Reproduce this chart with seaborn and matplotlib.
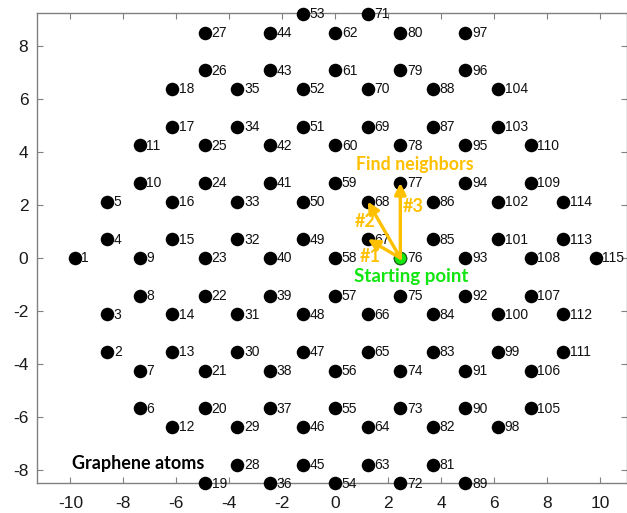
import matplotlib
matplotlib.use("Agg")
import matplotlib.pyplot as plt
import seaborn as sns
import pandas as pd

# ---------------- data ----------------
atom_x = [
    -9.84,
    -8.61, -8.61, -8.61, -8.61,
    -7.38, -7.38, -7.38, -7.38, -7.38, -7.38,
    -6.15, -6.15, -6.15, -6.15, -6.15, -6.15, -6.15,
    -4.92, -4.92, -4.92, -4.92, -4.92, -4.92, -4.92, -4.92, -4.92,
    -3.69, -3.69, -3.69, -3.69, -3.69, -3.69, -3.69, -3.69,
    -2.46, -2.46, -2.46, -2.46, -2.46, -2.46, -2.46, -2.46, -2.46,
    -1.23, -1.23, -1.23, -1.23, -1.23, -1.23, -1.23, -1.23, -1.23,
    0.00, 0.00, 0.00, 0.00, 0.00, 0.00, 0.00, 0.00, 0.00,
    1.23, 1.23, 1.23, 1.23, 1.23, 1.23, 1.23, 1.23, 1.23,
    2.46, 2.46, 2.46, 2.46, 2.46, 2.46, 2.46, 2.46, 2.46,
    3.69, 3.69, 3.69, 3.69, 3.69, 3.69, 3.69, 3.69,
    4.92, 4.92, 4.92, 4.92, 4.92, 4.92, 4.92, 4.92, 4.92,
    6.15, 6.15, 6.15, 6.15, 6.15, 6.15, 6.15,
    7.38, 7.38, 7.38, 7.38, 7.38, 7.38,
    8.61, 8.61, 8.61, 8.61,
    9.84,
]
atom_y = [
    0.00,
    -3.55, -2.13, 0.71, 2.13,
    -5.68, -4.26, -1.42, 0.00, 2.84, 4.26,
    -6.39, -3.55, -2.13, 0.71, 2.13, 4.97, 6.39,
    -8.52, -5.68, -4.26, -1.42, 0.00, 2.84, 4.26, 7.10, 8.52,
    -7.81, -6.39, -3.55, -2.13, 0.71, 2.13, 4.97, 6.39,
    -8.52, -5.68, -4.26, -1.42, 0.00, 2.84, 4.26, 7.10, 8.52,
    -7.81, -6.39, -3.55, -2.13, 0.71, 2.13, 4.97, 6.39, 9.23,
    -8.52, -5.68, -4.26, -1.42, 0.00, 2.84, 4.26, 7.10, 8.52,
    -7.81, -6.39, -3.55, -2.13, 0.71, 2.13, 4.97, 6.39, 9.23,
    -8.52, -5.68, -4.26, -1.42, 0.00, 2.84, 4.26, 7.10, 8.52,
    -7.81, -6.39, -3.55, -2.13, 0.71, 2.13, 4.97, 6.39,
    -8.52, -5.68, -4.26, -1.42, 0.00, 2.84, 4.26, 7.10, 8.52,
    -6.39, -3.55, -2.13, 0.71, 2.13, 4.97, 6.39,
    -5.68, -4.26, -1.42, 0.00, 2.84, 4.26,
    -3.55, -2.13, 0.71, 2.13,
    0.00,
]
atom_labels = [str(i) for i in range(1, len(atom_x) + 1)]

start_x = [2.46]
start_y = [0.00]
neighbor_x = [1.23, 1.23, 2.46]
neighbor_y = [0.71, 2.13, 2.84]
neighbor_labels = ["#1", "#2", "#3"]
neighbor_label_x = [1.34, 1.15, 2.93]
neighbor_label_y = [0.05, 1.37, 1.94]

x_ticks = [-10, -8, -6, -4, -2, 0, 2, 4, 6, 8, 10]
y_ticks = [-8, -6, -4, -2, 0, 2, 4, 6, 8]

ORANGE = "#FFC000"
GREEN = "#11E611"

# ---------------- figure ----------------
sns.set_theme(style="white")
plt.rcParams["font.family"] = ["Liberation Sans", "DejaVu Sans"]
plt.rcParams["axes.unicode_minus"] = False

fig = plt.figure(figsize=(6.27, 5.13), dpi=100)
ax = fig.add_axes([36.7 / 627, (513 - 483.3) / 513, (626.5 - 36.7) / 627, (483.3 - 13.3) / 513])

df = pd.DataFrame({"x": atom_x, "y": atom_y, "label": atom_labels})
sns.scatterplot(data=df, x="x", y="y", color="black", s=95, linewidth=0,
                ax=ax, clip_on=False, zorder=3, legend=False)

for xx, yy, lab in zip(df["x"], df["y"], df["label"]):
    ax.annotate(lab, (xx, yy), xytext=(4.8, -0.3), textcoords="offset points",
                ha="left", va="center", fontsize=10, color="#111111",
                annotation_clip=False, zorder=4)

# starting point
sns.scatterplot(x=start_x, y=start_y, color=GREEN, s=80, edgecolor="#1a6a1a",
                linewidth=0.8, ax=ax, clip_on=False, zorder=5, legend=False)

# neighbour arrows
for tx, ty in zip(neighbor_x, neighbor_y):
    ax.annotate("", xy=(tx, ty), xytext=(start_x[0], start_y[0]),
                arrowprops=dict(arrowstyle="-|>", color=ORANGE, lw=2.4,
                                mutation_scale=17, shrinkA=0, shrinkB=0),
                zorder=6)
bold_font = ["Lato", "DejaVu Sans"]
for lx, ly, lab in zip(neighbor_label_x, neighbor_label_y, neighbor_labels):
    ax.text(lx, ly, lab, color=ORANGE, fontsize=13, fontweight="bold",
            family=bold_font, ha="center", va="center", zorder=7)

ax.text(3.0, 3.55, "Find neighbors", color=ORANGE, fontsize=12.8,
        fontweight="bold", family=bold_font, ha="center", va="center", zorder=7)
ax.text(2.86, -0.72, "Starting point", color=GREEN, fontsize=13.5,
        fontweight="bold", family=bold_font, ha="center", va="center", zorder=7)
ax.text(-7.45, -7.78, "Graphene atoms", color="black", fontsize=13,
        fontweight="bold", family=bold_font, ha="center", va="center", zorder=7)

ax.set_xlim(-11.27, 11.0)
ax.set_ylim(-8.52, 9.25)
ax.set_xticks(x_ticks)
ax.set_yticks(y_ticks)
ax.set_xlabel("")
ax.set_ylabel("")

for sp in ax.spines.values():
    sp.set_visible(True)
    sp.set_color("#808080")
    sp.set_linewidth(1.0)
ax.tick_params(axis="both", direction="in", length=4, width=0.8, color="#808080",
               top=True, right=True, bottom=True, left=True,
               labelsize=12.5, labelcolor="#1a1a1a")
ax.tick_params(axis="x", pad=9)
ax.tick_params(axis="y", pad=6)

fig.savefig("out.png", dpi=100)
